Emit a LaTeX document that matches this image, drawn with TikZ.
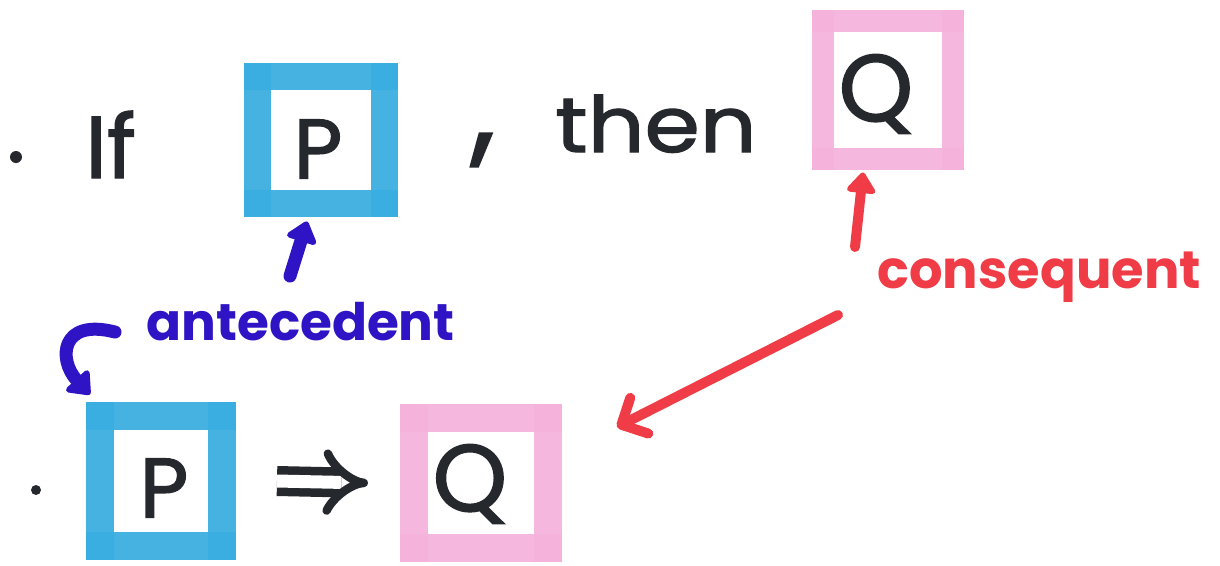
\documentclass[tikz,border=0pt]{standalone}
\usepackage{fontspec}
\setmainfont{Poppins}
\newfontfamily\inkfont{Poppins}[FakeBold=1.6]
\usetikzlibrary{arrows.meta}
\definecolor{mblue}{HTML}{3AAEE0}
\definecolor{mpink}{HTML}{F5B3DC}
\definecolor{mred}{HTML}{F03C46}
\definecolor{mindigo}{HTML}{2E14C4}
\definecolor{mink}{HTML}{25282C}
\newcommand\mkbox[3]{%
  \draw[#2, line width=#3, line cap=rect, opacity=.94] (#1.north west) -- (#1.north east);
  \draw[#2, line width=#3, line cap=rect, opacity=.94] (#1.north east) -- (#1.south east);
  \draw[#2, line width=#3, line cap=rect, opacity=.94] (#1.south east) -- (#1.south west);
  \draw[#2, line width=#3, line cap=rect, opacity=.94] (#1.south west) -- (#1.north west);
}
\begin{document}
\begin{tikzpicture}[x=0.02cm,y=-0.02cm,
  boxframe/.style={draw=none, inner sep=0pt, outer sep=0pt},
  ink/.style={text=mink, inner sep=0pt},
  letter/.style={ink, font=\inkfont\fontsize{48}{48}\selectfont},
  bluelabel/.style={text=mindigo, inner sep=0pt, font=\fontsize{29.4}{30}\selectfont\bfseries},
  redlabel/.style={text=mred, inner sep=0pt, font=\fontsize{30}{30}\selectfont\bfseries},
  bluearrow/.style={draw=mindigo, line width=0.26cm, line cap=round, line join=round, -{Triangle[length=0.45cm,width=0.7cm,round]}},
  redarrow/.style={draw=mred, line width=0.2cm, line cap=round, line join=round, -{Triangle[length=0.45cm,width=0.65cm,round]}},
  redbarb/.style={draw=mred, line width=0.2cm, line cap=round, line join=round, -{Straight Barb[length=0.4cm,width=0.8cm,round]}},
  impl/.style={draw=mink, line width=0.17cm, double distance=0.26cm, -{Implies[length=0.32cm,width=1.05cm,round]}}
]
\useasboundingbox[fill=white] (0,0) rectangle (1220,565);

% boxes
\node[boxframe, minimum width=2.56cm, minimum height=2.54cm] (pt) at (321,140) {};
\node[boxframe, minimum width=2.60cm, minimum height=2.78cm] (qt) at (888,90) {};
\node[boxframe, minimum width=2.44cm, minimum height=2.62cm] (pb) at (161,481) {};
\node[boxframe, minimum width=2.68cm, minimum height=2.60cm] (qb) at (481,483) {};
\mkbox{pt}{mblue}{0.54cm}
\mkbox{qt}{mpink}{0.44cm}
\mkbox{pb}{mblue}{0.56cm}
\mkbox{qb}{mpink}{0.56cm}

% top line
\fill[mink] (16,157) circle (6);
\node[ink, anchor=base west, font=\inkfont\fontsize{50}{50}\selectfont] (if) at (85,178) {If};
\node[letter] (p1) at (318,149) {P};
\node[ink, font=\inkfont\fontsize{70}{70}\selectfont] (comma) at (483,150) {,};
\node[ink, anchor=base west, font=\inkfont\fontsize{44}{44}\selectfont] (then) at (555,152) {\scalebox{1.15}[1]{then}};
\node[letter, font=\inkfont\fontsize{54}{54}\selectfont] (q1) at (876,94) {Q};

% bottom line
\fill[mink] (36,490) circle (5);
\node[letter] (p2) at (164,488) {P};
\node[letter, font=\inkfont\fontsize{54}{54}\selectfont] (q2) at (470,484) {Q};
\draw[impl] ([shift={(55,0)}]pb.east) -- ([shift={(-46,0)}]qb.west);

% labels
\node[bluelabel, anchor=base west] (ante) at (146,340) {antecedent};
\node[redlabel, anchor=base west] (cons) at (877,288) {consequent};

% connectors
\coordinate (a1) at (290,276);
\draw[bluearrow] (a1) -- ([shift={(-14,18)}]pt.south);
\coordinate (h1) at (115,332);
\draw[bluearrow] (h1) .. controls (60,318) and (58,360) .. ([shift={(-10,-21)}]pb.north west);
\coordinate (c1) at (855,247);
\draw[redarrow] (c1) -- ([shift={(-25,13)}]qt.south);
\coordinate (c2) at (838,315);
\draw[redbarb] (c2) -- ([shift={(69,-56)}]qb.east);
\end{tikzpicture}
\end{document}
